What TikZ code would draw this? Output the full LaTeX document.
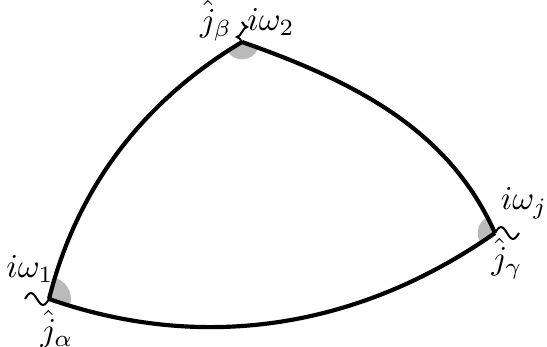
\documentclass[tikz,border=0pt]{standalone}
\begin{document}
\begin{tikzpicture}[x=0.3pt,y=-0.3pt,
  edge/.style={line width=1.25pt,line join=round},
  wig/.style={line width=0.6pt},
  wedge/.style={fill=black!27},
  lab/.style={inner sep=0pt}]
\useasboundingbox (0,0) rectangle (547,347);
\coordinate (A) at (49,299);
\coordinate (B) at (242,42);
\coordinate (C) at (495,233);
\begin{scope}
  \clip (A) .. controls (76.5,189) and (142,102) .. (B)
        .. controls (362,84) and (450,133) .. (C)
        .. controls (355,331) and (199,351.5) .. (A) -- cycle;
  \fill[wedge] (A) circle[radius=6.6pt];
  \fill[wedge] (B) circle[radius=5.2pt];
  \fill[wedge] (C) circle[radius=5.2pt];
\end{scope}
\draw[edge] (A) .. controls (76.5,189) and (142,102) .. (B);
\draw[edge] (B) .. controls (362,84) and (450,133) .. (C);
\draw[edge] (C) .. controls (355,331) and (199,351.5) .. (A);
\draw[wig] (A) sin ++(-6,6) cos ++(-6,-6) sin ++(-6,-6) cos ++(-6,6);
\draw[wig] (B) sin ++(-5,-5) cos ++(5,-5) sin ++(5,-5) cos ++(-5,-5);
\draw[wig] (C) sin ++(6,-6) cos ++(6,6) sin ++(6,6) cos ++(6,-6);
\node[lab] (w1) at (30,269) {$i\omega_1$};
\node[lab] (ja) at (57,329) {$\hat{j}_\alpha$};
\node[lab] (jb) at (216,21) {$\hat{j}_\beta$};
\node[lab] (w2) at (271,22) {$i\omega_2$};
\node[lab] (wj) at (524,203) {$i\omega_j$};
\node[lab] (jg) at (507,259) {$\hat{j}_\gamma$};
\end{tikzpicture}
\end{document}
